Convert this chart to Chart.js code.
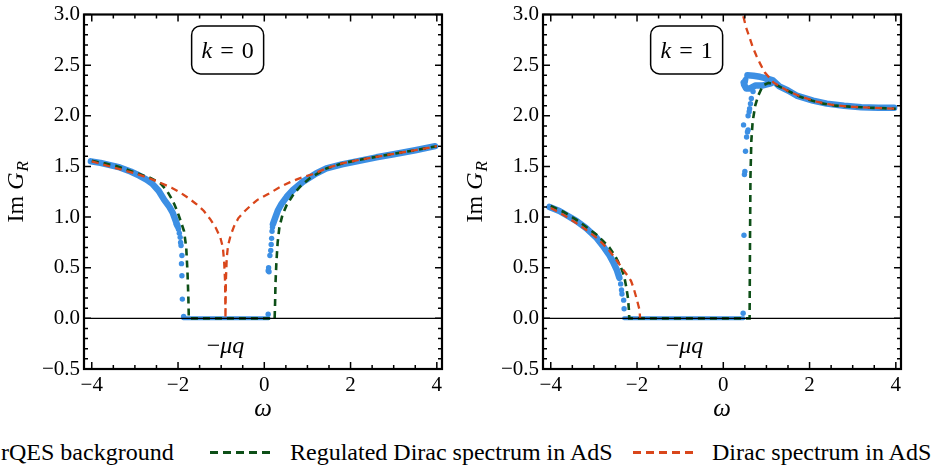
<!DOCTYPE html>
<html>
<head>
<meta charset="utf-8">
<script src="https://cdn.jsdelivr.net/npm/chart.js@4.4.1/dist/chart.umd.min.js"></script>
<style>
html,body{margin:0;padding:0;background:#fff;}
body{width:934px;height:469px;position:relative;overflow:hidden;font-family:"Liberation Serif","Times New Roman",serif;}
canvas{position:absolute;top:0;}
#chartK0{left:0;}
#chartK1{left:459px;}
.lg{position:absolute;top:440px;font-size:24px;line-height:24px;white-space:nowrap;color:#000;}
.dash{position:absolute;top:451px;height:3px;width:62px;}
</style>
</head>
<body>
<canvas id="chartK0" width="459" height="425"></canvas>
<canvas id="chartK1" width="459" height="425"></canvas>
<div class="lg" style="left:1px">rQES background</div>
<div class="dash" style="left:210px;background:repeating-linear-gradient(to right,#0d4f17 0 8px,transparent 8px 13px)"></div>
<div class="lg" style="left:290px">Regulated Dirac spectrum in AdS</div>
<div class="dash" style="left:633px;background:repeating-linear-gradient(to right,#d9461b 0 8px,transparent 8px 13px)"></div>
<div class="lg" style="left:712px">Dirac spectrum in AdS</div>
<script>
// ---------- tick labels ----------
const xTicks = [-4, -2, 0, 2, 4];
const yTicks = [-0.5, 0, 0.5, 1, 1.5, 2, 2.5, 3];

// ---------- k = 0 panel ----------
const k0RegW  = [-4.0,-3.7,-3.4,-3.0,-2.63,-2.4,-2.25,-2.12,-2.02,-1.93,-1.86,-1.81,-1.78,-1.76,-1.75,0.24,0.25,0.26,0.28,0.31,0.35,0.42,0.52,0.67,0.85,1.06,1.44,1.8,2.2,2.6,3.0,3.5,4.0];
const k0RegIm = [1.555,1.53,1.50,1.44,1.385,1.33,1.255,1.16,1.06,0.95,0.86,0.70,0.45,0.20,0,0,0.15,0.35,0.55,0.75,0.90,1.02,1.12,1.22,1.31,1.385,1.48,1.53,1.565,1.595,1.625,1.66,1.70];

const k0DiracW  = [-4.0,-3.5,-3.02,-2.7,-2.4,-2.15,-1.94,-1.75,-1.56,-1.4,-1.25,-1.12,-1.02,-0.96,-0.93,-0.91,-0.90,-0.89,-0.87,-0.84,-0.78,-0.7,-0.6,-0.45,-0.3,-0.16,0.1,0.38,0.6,0.83,1.1,1.44,1.8,2.2,2.6,3.0,3.5,4.0];
const k0DiracIm = [1.55,1.49,1.434,1.39,1.336,1.29,1.24,1.185,1.124,1.06,0.977,0.89,0.80,0.70,0.55,0.37,0,0.37,0.60,0.72,0.82,0.91,0.99,1.06,1.12,1.17,1.23,1.30,1.345,1.385,1.42,1.48,1.53,1.565,1.595,1.625,1.66,1.70];

const k0BandW  = [-4.02,-3.8,-3.6,-3.35,-3.1,-2.9,-2.73,-2.6,-2.45,-2.32,-2.2,-2.12,-2.06,-2.01,null,0.20,0.25,0.32,0.40,0.52,0.67,0.9,1.2,1.44,1.8,2.2,2.6,3.0,3.5,3.96];
const k0BandIm = [1.55,1.535,1.515,1.49,1.45,1.41,1.37,1.33,1.26,1.17,1.10,1.04,0.97,0.91,null,0.93,0.99,1.07,1.13,1.20,1.27,1.35,1.43,1.48,1.52,1.555,1.59,1.62,1.66,1.70];

const k0ZeroW  = [-1.88, 0.10];
const k0ZeroIm = [0, 0];

const k0DotsW  = [-2.04,-1.99,-1.97,-1.95,-1.94,-1.93,-1.91,-1.92,-1.91,-1.90,-1.87,0.09,0.09,0.10,0.11,0.13,0.15,0.16,0.17,0.18,0.19];
const k0DotsIm = [0.93,0.88,0.84,0.80,0.75,0.72,0.62,0.54,0.42,0.19,0.02,0.04,0.47,0.50,0.46,0.62,0.67,0.73,0.79,0.86,0.90];

// ---------- k = 1 panel ----------
const k1RegW  = [-4.0,-3.7,-3.42,-3.2,-2.95,-2.8,-2.64,-2.5,-2.37,-2.3,-2.25,-2.21,-2.19,-2.18,0.61,0.62,0.63,0.65,0.68,0.74,0.81,0.92,1.05,1.2,1.39,1.6,1.77,2.05,2.32,2.6,2.93,3.4,4.0];
const k1RegIm = [1.11,1.05,0.977,0.91,0.83,0.77,0.70,0.61,0.50,0.42,0.31,0.20,0.095,0,0,0.8,1.4,1.75,1.94,2.10,2.20,2.30,2.325,2.31,2.27,2.225,2.19,2.15,2.12,2.10,2.09,2.08,2.07];

const k1DiracW  = [-4.0,-3.7,-3.42,-3.2,-2.95,-2.8,-2.64,-2.5,-2.33,-2.2,-2.14,-2.08,-2.02,-1.97,-1.94,-1.93,null,0.42,0.46,0.53,0.61,0.69,0.77,0.86,0.96,1.06,1.16,1.35,1.54,1.8,2.16,2.5,2.93,3.4,4.0];
const k1DiracIm = [1.09,1.02,0.944,0.88,0.80,0.74,0.667,0.59,0.487,0.41,0.37,0.30,0.21,0.13,0.08,0,null,3.1,2.99,2.87,2.77,2.67,2.59,2.51,2.43,2.38,2.33,2.28,2.235,2.19,2.14,2.11,2.09,2.08,2.07];

const k1BandW  = [-4.03,-3.8,-3.6,-3.4,-3.18,-2.95,-2.8,-2.65,-2.56,-2.47,-2.41,null,0.56,0.7,0.85,1.0,1.15,1.3,1.5,1.7,2.08,2.4,2.8,3.2,3.6,3.96,null,0.50,0.48,0.53,0.62,0.75,0.92,1.1];
const k1BandIm = [1.10,1.06,1.01,0.96,0.89,0.80,0.72,0.63,0.56,0.48,0.40,null,2.40,2.395,2.385,2.37,2.35,2.29,2.25,2.20,2.15,2.12,2.10,2.085,2.08,2.08,null,2.34,2.31,2.27,2.27,2.30,2.30,2.32];

const k1ZeroW  = [-2.30, 0.47];
const k1ZeroIm = [0, 0];

const k1DotsW  = [-2.38,-2.36,-2.35,-2.31,-2.30,0.46,0.48,0.49,0.50,0.515,0.47,0.54,0.56,0.575,0.575,0.60,0.61,0.63,0.65,0.69,0.46,0.52];
const k1DotsIm = [0.34,0.28,0.24,0.18,0.095,0.05,0.82,1.42,1.45,1.65,1.91,1.79,1.84,1.86,2.0,2.04,2.07,2.12,2.17,2.24,2.33,2.36];

// annotation anchors (data units)
const kBoxAt = {x: -0.85, y: 2.65};
const muqAt  = {x: -0.90, y: -0.27};

// ---------- styling ----------
const BLUE = '#3c8fe4', GREEN = '#0d4f17', ORANGE = '#d9461b';
const FONT = '"Liberation Serif","Times New Roman",serif';

function pts(ws, ims) { return ws.map((w, i) => ({x: w, y: ims[i]})); }
function minusFmt(v, d) { const s = d ? Math.abs(v).toFixed(d) : String(Math.abs(v)); return (v < 0 ? '\u2212' : '') + s; }

const decor = {
  id: 'decor',
  afterDatasetsDraw(chart, args, o) {
    const {ctx, chartArea: a, scales: {x, y}} = chart;
    ctx.save();
    ctx.setLineDash([]);
    ctx.strokeStyle = '#000';
    // zero axis line
    const y0 = y.getPixelForValue(0);
    ctx.lineWidth = 1.2;
    ctx.beginPath(); ctx.moveTo(a.left, y0); ctx.lineTo(a.right, y0); ctx.stroke();
    // inward ticks on all four sides
    ctx.lineWidth = 1.5;
    ctx.beginPath();
    for (let i = -8; i <= 8; i++) {
      const px = x.getPixelForValue(i * 0.5);
      const L = (i % 4 === 0) ? 7 : 4;
      ctx.moveTo(px, a.bottom); ctx.lineTo(px, a.bottom - L);
      ctx.moveTo(px, a.top); ctx.lineTo(px, a.top + L);
    }
    for (let i = -5; i <= 30; i++) {
      const py = y.getPixelForValue(i * 0.1);
      const L = (i % 5 === 0) ? 7 : 4;
      ctx.moveTo(a.left, py); ctx.lineTo(a.left + L, py);
      ctx.moveTo(a.right, py); ctx.lineTo(a.right - L, py);
    }
    ctx.stroke();
    // frame
    ctx.lineWidth = 2.2;
    ctx.strokeRect(a.left, a.top, a.right - a.left, a.bottom - a.top);

    ctx.fillStyle = '#000';
    ctx.textBaseline = 'alphabetic';
    ctx.textAlign = 'left';
    // y title: Im G_R
    ctx.save();
    ctx.translate(15, (a.top + a.bottom) / 2);
    ctx.rotate(-Math.PI / 2);
    ctx.font = '24px ' + FONT; const w1 = ctx.measureText('Im ').width;
    ctx.font = 'italic 24px ' + FONT; const w2 = ctx.measureText('G').width;
    ctx.font = 'italic 17px ' + FONT; const w3 = ctx.measureText('R').width;
    let sx = -(w1 + w2 + w3 + 1) / 2;
    ctx.font = '24px ' + FONT; ctx.fillText('Im ', sx, 8); sx += w1;
    ctx.font = 'italic 24px ' + FONT; ctx.fillText('G', sx, 8); sx += w2 + 1;
    ctx.font = 'italic 17px ' + FONT; ctx.fillText('R', sx, 13);
    ctx.restore();

    // k box
    const cx = x.getPixelForValue(o.box.x), cy = y.getPixelForValue(o.box.y);
    const bw = 72, bh = 48;
    ctx.lineWidth = 1.5;
    ctx.beginPath(); ctx.roundRect(cx - bw / 2, cy - bh / 2, bw, bh, 9);
    ctx.fillStyle = '#fff'; ctx.fill(); ctx.stroke();
    ctx.fillStyle = '#000';
    ctx.font = 'italic 24px ' + FONT; const kw = ctx.measureText('k').width;
    ctx.font = '24px ' + FONT; const ew = ctx.measureText('=').width, dw = ctx.measureText(o.k).width;
    const gap = 8;
    let tx = cx - (kw + ew + dw + 2 * gap) / 2;
    ctx.font = 'italic 24px ' + FONT; ctx.fillText('k', tx, cy + 8); tx += kw + gap;
    ctx.font = '24px ' + FONT; ctx.fillText('=', tx, cy + 8); tx += ew + gap;
    ctx.fillText(o.k, tx, cy + 8);

    // −μq
    const mx = x.getPixelForValue(o.muq.x), my = y.getPixelForValue(o.muq.y);
    ctx.font = '24px ' + FONT; const mw = ctx.measureText('\u2212').width;
    ctx.font = 'italic 24px ' + FONT; const qw = ctx.measureText('\u03bcq').width;
    let qx = mx - (mw + qw) / 2;
    ctx.font = '24px ' + FONT; ctx.fillText('\u2212', qx, my + 7); qx += mw;
    ctx.font = 'italic 24px ' + FONT; ctx.fillText('\u03bcq', qx, my + 7);
    ctx.restore();
  }
};

function makeChart(id, d, kText) {
  return new Chart(document.getElementById(id), {
    type: 'line',
    data: {
      datasets: [
        {label: 'Dirac spectrum in AdS', data: pts(d.diracW, d.diracIm), borderColor: ORANGE, borderWidth: 2.3, borderDash: [7, 5], pointRadius: 0, spanGaps: false, order: 1},
        {label: 'Regulated Dirac spectrum in AdS', data: pts(d.regW, d.regIm), borderColor: GREEN, borderWidth: 2.6, borderDash: [7, 5], pointRadius: 0, spanGaps: false, order: 2},
        {label: 'rQES background', data: pts(d.bandW, d.bandIm), borderColor: BLUE, borderWidth: 6.5, borderCapStyle: 'round', borderJoinStyle: 'round', pointRadius: 0, spanGaps: false, order: 3},
        {label: 'rQES background', data: pts(d.zeroW, d.zeroIm), borderColor: BLUE, borderWidth: 4, borderCapStyle: 'round', pointRadius: 0, order: 4},
        {label: 'rQES background', data: pts(d.dotsW, d.dotsIm), showLine: false, pointRadius: 2.7, pointBackgroundColor: BLUE, pointBorderWidth: 0, order: 5}
      ]
    },
    options: {
      responsive: false,
      animation: false,
      devicePixelRatio: 1,
      layout: {padding: {top: 11, right: 17, left: 0, bottom: 0}},
      plugins: {
        legend: {display: false},
        tooltip: {enabled: false},
        decor: {box: kBoxAt, muq: muqAt, k: kText}
      },
      scales: {
        x: {
          type: 'linear', min: -4.18, max: 4.12,
          grid: {display: false, drawTicks: false},
          border: {display: false},
          afterBuildTicks: s => { s.ticks = xTicks.map(v => ({value: v})); },
          afterFit: s => { s.height = 56; },
          ticks: {padding: 6, color: '#000', maxRotation: 0, autoSkip: false, font: {family: FONT, size: 21, lineHeight: 1}, callback: v => minusFmt(v, 0)},
          title: {display: true, text: 'ω', color: '#000', font: {family: FONT, size: 25, style: 'italic', lineHeight: 1}, padding: {top: 0, bottom: 3}}
        },
        y: {
          type: 'linear', min: -0.5, max: 3.0,
          grid: {display: false, drawTicks: false},
          border: {display: false},
          afterBuildTicks: s => { s.ticks = yTicks.map(v => ({value: v})); },
          afterFit: s => { s.width = 84; },
          ticks: {padding: 4, color: '#000', autoSkip: false, font: {family: FONT, size: 21, lineHeight: 1}, callback: v => minusFmt(v, 1)}
        }
      }
    },
    plugins: [decor]
  });
}

makeChart('chartK0', {
  regW: k0RegW, regIm: k0RegIm, diracW: k0DiracW, diracIm: k0DiracIm,
  bandW: k0BandW, bandIm: k0BandIm, zeroW: k0ZeroW, zeroIm: k0ZeroIm, dotsW: k0DotsW, dotsIm: k0DotsIm
}, '0');
makeChart('chartK1', {
  regW: k1RegW, regIm: k1RegIm, diracW: k1DiracW, diracIm: k1DiracIm,
  bandW: k1BandW, bandIm: k1BandIm, zeroW: k1ZeroW, zeroIm: k1ZeroIm, dotsW: k1DotsW, dotsIm: k1DotsIm
}, '1');
</script>
</body>
</html>
